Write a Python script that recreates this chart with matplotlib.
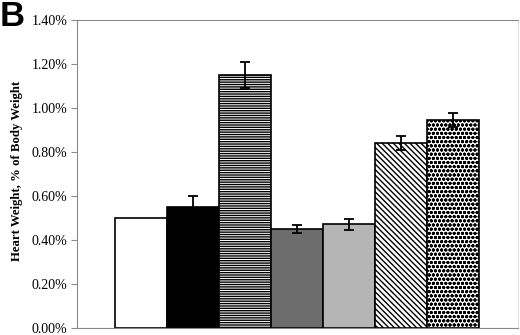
import matplotlib.pyplot as plt
from matplotlib.ticker import FuncFormatter

groups = ["1", "2", "3", "4", "5", "6", "7"]
heart_pct = [0.50, 0.55, 1.15, 0.45, 0.47, 0.84, 0.945]
err_pct = [0.0, 0.05, 0.06, 0.018, 0.025, 0.033, 0.03]
faces = ["white", "black", "white", "#6d6d6d", "#b5b5b5", "white", "white"]
hatches = [None, None, "-------", None, None, "\\\\\\\\\\\\", "oooo"]
yticks = [0.0, 0.2, 0.4, 0.6, 0.8, 1.0, 1.2, 1.4]

plt.rcParams["hatch.linewidth"] = 1.0

fig = plt.figure(figsize=(5.2, 3.35), dpi=100)
ax = fig.add_axes([0.148, 0.022, 0.848, 0.918])

x = list(range(len(groups)))
for i in x:
    ax.bar(i, heart_pct[i], width=1.0, color=faces[i], edgecolor="black",
           linewidth=1.2, hatch=hatches[i], zorder=2)
    if err_pct[i] > 0:
        ax.errorbar(i, heart_pct[i], yerr=err_pct[i], fmt="none", ecolor="black",
                    elinewidth=1.3, capsize=3.5, capthick=1.3, zorder=3)

ax.set_xlim(-1.23, 7.25)
ax.set_ylim(0, 1.4)
ax.set_yticks(yticks)
ax.yaxis.set_major_formatter(FuncFormatter(lambda v, p: f"{v:.2f}%"))
ax.set_xticks([])
for s in ax.spines.values():
    s.set_color("#8a8a8a")
    s.set_linewidth(0.8)
ax.spines["right"].set_color("#e0e0e0")
ax.tick_params(axis="y", length=4, width=0.8, color="#8a8a8a", pad=3)
for lab in ax.get_yticklabels():
    lab.set_fontfamily("Liberation Serif")
    lab.set_fontsize(10)

fig.text(0.033, 0.49, "Heart Weight, % of Body Weight", rotation=90,
         ha="center", va="center", fontfamily="Liberation Serif",
         fontweight="bold", fontsize=9.2)
fig.text(0.0, 1.0, "B", ha="left", va="top", fontfamily="Liberation Sans",
         fontweight="bold", fontsize=25)

fig.savefig("out.png", dpi=100)
